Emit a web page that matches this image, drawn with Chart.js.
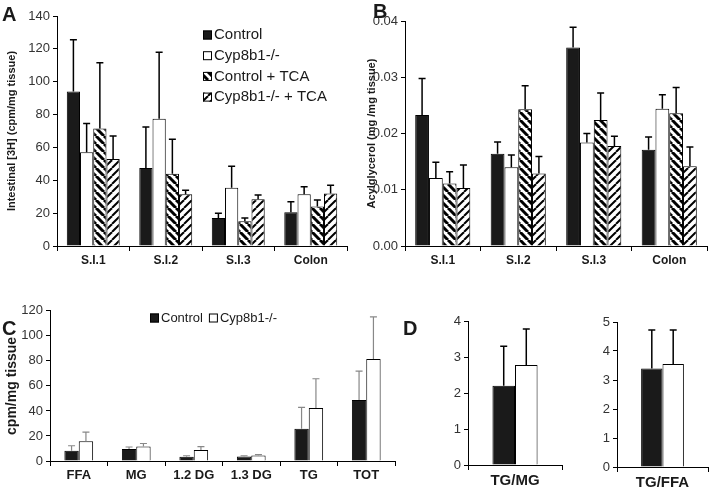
<!DOCTYPE html>
<html>
<head>
<meta charset="utf-8">
<script src="https://cdn.jsdelivr.net/npm/chart.js@4.4.1/dist/chart.umd.min.js"></script>
<style>
    html, body { margin: 0; padding: 0; background: #fff; }
    #fig { position: relative; width: 709px; height: 489px; overflow: hidden; font-family: "Liberation Sans", Arial, sans-serif; }
    #fig canvas { position: absolute; }
    .tag { position: absolute; font-weight: bold; font-size: 20px; line-height: 1; color: #1a1a1a; }
</style>
</head>
<body>
<div id="fig">
    <canvas id="chartA" width="360" height="275" style="left:0;top:0"></canvas>
    <canvas id="chartB" width="349" height="275" style="left:360px;top:0"></canvas>
    <canvas id="chartC" width="400" height="189" style="left:0;top:300px"></canvas>
    <canvas id="chartD1" width="170" height="189" style="left:400px;top:300px"></canvas>
    <canvas id="chartD2" width="139" height="189" style="left:570px;top:300px"></canvas>
    <div class="tag" style="left:2px;top:4px">A</div>
    <div class="tag" style="left:373px;top:1px">B</div>
    <div class="tag" style="left:2px;top:318px">C</div>
    <div class="tag" style="left:403px;top:318px">D</div>
</div>
<script>
// ---- data ----
const sites = ["S.I.1", "S.I.2", "S.I.3", "Colon"];
const seriesNames = ["Control", "Cyp8b1-/-", "Control + TCA", "Cyp8b1-/- + TCA"];

// panel A: intestinal [3H] (cpm/mg tissue), mean and SD
const aControl = [94, 47.5, 17, 20.5];
const aControlSd = [31.5, 25, 3, 6.5];
const aCyp = [57, 77.5, 35.5, 31.5];
const aCypSd = [17.5, 40.5, 13, 4.5];
const aControlTca = [71.5, 44, 15, 24];
const aControlTcaSd = [40, 21, 2, 4];
const aCypTca = [53, 31.5, 28.5, 32];
const aCypTcaSd = [14, 2.5, 2.5, 5];

// panel B: acylglycerol (mg/mg tissue)
const bControl = [0.0233, 0.0164, 0.0353, 0.0171];
const bControlSd = [0.0065, 0.0021, 0.0036, 0.0023];
const bCyp = [0.0121, 0.0140, 0.0184, 0.0244];
const bCypSd = [0.0028, 0.0022, 0.0016, 0.0025];
const bControlTca = [0.0111, 0.0243, 0.0224, 0.0236];
const bControlTcaSd = [0.0021, 0.0042, 0.0048, 0.0046];
const bCypTca = [0.0103, 0.0129, 0.0178, 0.0142];
const bCypTcaSd = [0.0041, 0.0030, 0.0017, 0.0034];

// panel C: lipid classes (cpm/mg tissue)
const lipids = ["FFA", "MG", "1.2 DG", "1.3 DG", "TG", "TOT"];
const cControl = [8.2, 9.6, 3.4, 3.5, 25.8, 48.8];
const cControlSd = [4, 1.6, 0.8, 0.7, 17, 23];
const cCyp = [15.8, 11.6, 8.7, 4.3, 42.3, 81.5];
const cCypSd = [7.2, 2.4, 2.8, 0.8, 23.4, 33.7];

// panel D: ratios
const dControl = [2.2, 3.4];
const dControlSd = [1.1, 1.32];
const dCyp = [2.78, 3.55];
const dCypSd = [1.0, 1.17];

// ---- styling ----
Chart.defaults.font.family = '"Liberation Sans", Arial, sans-serif';
Chart.defaults.color = "#333";
Chart.defaults.animation = false;

function stripes(dir, lw) {
    const c = document.createElement("canvas");
    c.width = c.height = 8;
    const g = c.getContext("2d");
    g.fillStyle = "#fff";
    g.fillRect(0, 0, 8, 8);
    g.strokeStyle = "#000";
    g.lineWidth = lw;
    for (let k = -8; k <= 16; k += 8) {
        g.beginPath();
        if (dir === "back") { g.moveTo(k, 0); g.lineTo(k + 8, 8); }
        else { g.moveTo(k, 8); g.lineTo(k + 8, 0); }
        g.stroke();
    }
    return g.createPattern(c, "repeat");
}

const fills = ["#1a1a1a", "#ffffff", stripes("back", 3), stripes("fwd", 2)];

const errorBars = {
    id: "errorBars",
    afterDatasetsDraw(chart, args, o) {
        const ctx = chart.ctx;
        const y = chart.scales.y;
        chart.data.datasets.forEach((ds, i) => {
            chart.getDatasetMeta(i).data.forEach((bar, j) => {
                const top = y.getPixelForValue(ds.data[j] + ds.errors[j]);
                ctx.save();
                ctx.strokeStyle = o.color;
                ctx.lineWidth = o.width;
                ctx.beginPath();
                ctx.moveTo(bar.x, bar.y);
                ctx.lineTo(bar.x, top);
                ctx.moveTo(bar.x - o.cap, top);
                ctx.lineTo(bar.x + o.cap, top);
                ctx.stroke();
                ctx.restore();
            });
        });
    }
};

const boxLegend = {
    id: "boxLegend",
    afterDraw(chart, args, o) {
        if (!o.show) return;
        const ctx = chart.ctx;
        ctx.save();
        ctx.font = o.size + 'px "Liberation Sans", Arial, sans-serif';
        ctx.textBaseline = "middle";
        let x = o.x, y = o.y;
        chart.data.datasets.forEach(ds => {
            ctx.fillStyle = ds.backgroundColor;
            ctx.fillRect(x, y - o.box / 2, o.box, o.box);
            ctx.strokeStyle = "#000";
            ctx.lineWidth = 1;
            ctx.strokeRect(x + 0.5, y - o.box / 2 + 0.5, o.box - 1, o.box - 1);
            ctx.fillStyle = "#1a1a1a";
            ctx.fillText(ds.label, x + o.box + 2, y);
            if (o.horizontal) x += o.box + 2 + ctx.measureText(ds.label).width + o.gap;
            else y += o.gap;
        });
        ctx.restore();
    }
};

function makeSets(values, sds, names) {
    return values.map((v, i) => ({
        label: names[i],
        data: v,
        errors: sds[i],
        backgroundColor: fills[i],
        borderColor: "#000",
        borderWidth: 1
    }));
}

function barChart(id, p) {
    return new Chart(document.getElementById(id), {
        type: "bar",
        data: { labels: p.labels, datasets: p.datasets },
        options: {
            responsive: false,
            events: [],
            layout: { padding: { top: p.top, right: p.right, left: 0, bottom: 0 } },
            datasets: { bar: { categoryPercentage: p.cat, barPercentage: 1 } },
            plugins: {
                legend: { display: false },
                tooltip: { enabled: false },
                errorBars: p.err,
                boxLegend: p.legend || { show: false }
            },
            scales: {
                x: {
                    grid: { display: true, drawOnChartArea: false, drawTicks: true, tickLength: 5, color: "#000", offset: true },
                    border: { display: true, color: "#000" },
                    ticks: { font: { weight: "bold", size: p.xSize }, color: "#1a1a1a", padding: 2 },
                    afterFit(s) { s.height = p.xh; }
                },
                y: {
                    min: p.min,
                    max: p.max,
                    ticks: { stepSize: p.step, font: { size: 13 }, color: "#333", padding: 3,
                             callback: v => p.dec ? v.toFixed(p.dec) : v },
                    grid: { display: true, drawOnChartArea: false, drawTicks: true, tickLength: 4, color: "#000" },
                    border: { display: true, color: "#000" },
                    title: { display: !!p.title, text: p.title, color: "#1a1a1a",
                             font: { weight: "bold", size: p.titleSize || 11 }, padding: { top: p.titlePad || 5, bottom: 0 } },
                    afterFit(s) { s.width = p.yw; }
                }
            }
        },
        plugins: [errorBars, boxLegend]
    });
}

barChart("chartA", {
    labels: sites,
    datasets: makeSets([aControl, aCyp, aControlTca, aCypTca], [aControlSd, aCypSd, aControlTcaSd, aCypTcaSd], seriesNames),
    min: 0, max: 140, step: 20, cat: 0.73,
    title: "Intestinal [3H] (cpm/mg tissue)",
    top: 16, right: 13, yw: 57, xh: 29, xSize: 12,
    err: { color: "#000", width: 1.5, cap: 3.5 },
    legend: { show: true, x: 203, y: 35, box: 9, size: 15, gap: 20.7 }
});

barChart("chartB", {
    labels: sites,
    datasets: makeSets([bControl, bCyp, bControlTca, bCypTca], [bControlSd, bCypSd, bControlTcaSd, bCypTcaSd], seriesNames),
    min: 0, max: 0.04, step: 0.01, dec: 2, cat: 0.73,
    title: "Acylglycerol (mg /mg tissue)",
    top: 21, right: 2, yw: 45, xh: 29, xSize: 12,
    err: { color: "#000", width: 1.5, cap: 3.5 }
});

barChart("chartC", {
    labels: lipids,
    datasets: makeSets([cControl, cCyp], [cControlSd, cCypSd], seriesNames),
    min: 0, max: 120, step: 20, cat: 0.5,
    title: "cpm/mg tissue", titleSize: 14, titlePad: 4,
    top: 10, right: 5, yw: 50, xh: 28, xSize: 13,
    err: { color: "#888", width: 1.2, cap: 3.5 },
    legend: { show: true, horizontal: true, x: 150, y: 18, box: 9, size: 13, gap: 6 }
});

barChart("chartD1", {
    labels: ["TG/MG"],
    datasets: makeSets([[dControl[0]], [dCyp[0]]], [[dControlSd[0]], [dCypSd[0]]], seriesNames),
    min: 0, max: 4, step: 1, cat: 0.48,
    top: 21, right: 8, yw: 68, xh: 24, xSize: 15,
    err: { color: "#000", width: 1.5, cap: 3.5 }
});

barChart("chartD2", {
    labels: ["TG/FFA"],
    datasets: makeSets([[dControl[1]], [dCyp[1]]], [[dControlSd[1]], [dCypSd[1]]], seriesNames),
    min: 0, max: 5, step: 1, cat: 0.47,
    top: 22, right: 1, yw: 47, xh: 22, xSize: 15,
    err: { color: "#000", width: 1.5, cap: 3.5 }
});
</script>
</body>
</html>
